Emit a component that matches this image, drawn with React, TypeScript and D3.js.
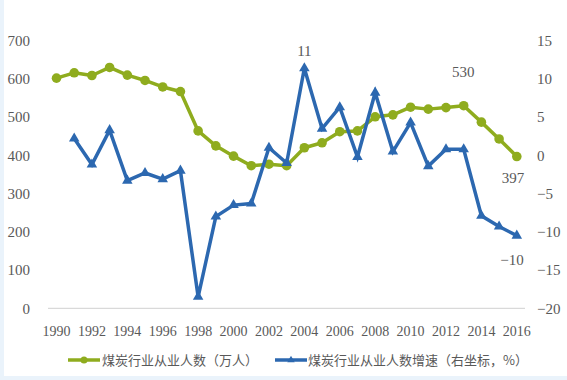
import React from "react";
import * as d3 from "d3";

const years = d3.range(1990, 2017);
const employees = [602, 616, 609, 630, 610, 596, 579, 567, 464, 425, 398, 373, 377, 373, 420, 433, 462, 464, 501, 506, 526, 521, 525, 530, 487, 443, 397];
const growthYears = d3.range(1991, 2017);
const growth = [2.2, -1.2, 3.3, -3.3, -2.3, -3.1, -2.0, -18.5, -8.0, -6.5, -6.3, 1.0, -1.0, 11.4, 3.5, 6.3, -0.2, 8.2, 0.5, 4.3, -1.4, 0.8, 0.8, -7.9, -9.3, -10.5];
const leftTicks = [0, 100, 200, 300, 400, 500, 600, 700];
const rightTicks = [-20, -15, -10, -5, 0, 5, 10, 15];
const xTickYears = d3.range(1990, 2017, 2);
const legendLabels = ["煤炭行业从业人数（万人）", "煤炭行业从业人数增速（右坐标，%）"];

const W = 567, H = 380;
const GREEN = "#8fac1e";
const BLUE = "#2c68b0";
const TEXT = "#595959";
const NUM_FONT = "'Liberation Serif', 'DejaVu Serif', serif";
const CJK_FONT = "'Noto Sans CJK SC', sans-serif";

export default function App() {
  const x = d3.scaleLinear().domain([1990, 2016]).range([56.5, 516.8]);
  const yL = d3.scaleLinear().domain([0, 700]).range([308.3, 40.7]);
  const yR = d3.scaleLinear().domain([-20, 15]).range([308.3, 40.7]);

  const greenLine = d3.line<number>().x((_, i) => x(years[i])).y((d) => yL(d))(employees) || "";
  const blueLine = d3.line<number>().x((_, i) => x(growthYears[i])).y((d) => yR(d))(growth) || "";
  const tri = d3.symbol().type(d3.symbolTriangle).size(48)() || "";

  return (
    <svg width={W} height={H} style={{ position: "absolute", left: 0, top: 0, background: "#fff" }}>
      <rect x={0} y={0} width={4} height={H} fill="#eaf3fb" />
      <rect x={0} y={H - 4} width={W} height={4} fill="#eaf3fb" />
      <line x1={48} x2={525} y1={yL(0)} y2={yL(0)} stroke="#d9d9d9" strokeWidth={1.2} />
      {leftTicks.map((t) => (
        <text key={"l" + t} x={30} y={yL(t)} dy="0.35em" textAnchor="end" fontFamily={NUM_FONT} fontSize={15} fill={TEXT}>{t}</text>
      ))}
      {rightTicks.map((t) => (
        <text key={"r" + t} x={537} y={yR(t)} dy="0.35em" textAnchor="start" fontFamily={NUM_FONT} fontSize={15} fill={TEXT}>{t < 0 ? "\u2212" + Math.abs(t) : t}</text>
      ))}
      {xTickYears.map((t) => (
        <text key={"x" + t} x={x(t)} y={331} dy="0.35em" textAnchor="middle" fontFamily={NUM_FONT} fontSize={14} fill={TEXT}>{t}</text>
      ))}
      <path d={greenLine} fill="none" stroke={GREEN} strokeWidth={3.5} strokeLinejoin="round" />
      {employees.map((v, i) => (
        <circle key={"g" + i} cx={x(years[i])} cy={yL(v)} r={4.8} fill={GREEN} />
      ))}
      <path d={blueLine} fill="none" stroke={BLUE} strokeWidth={3.5} strokeLinejoin="miter" />
      {growth.map((v, i) => (
        <path key={"b" + i} d={tri} transform={`translate(${x(growthYears[i])},${yR(v)})`} fill={BLUE} />
      ))}
      <text x={x(2004)} y={51} dy="0.35em" textAnchor="middle" fontFamily={NUM_FONT} fontSize={15} fill={TEXT}>11</text>
      <text x={x(2013) - 0.5} y={72} dy="0.35em" textAnchor="middle" fontFamily={NUM_FONT} fontSize={15} fill={TEXT}>530</text>
      <text x={513} y={178} dy="0.35em" textAnchor="middle" fontFamily={NUM_FONT} fontSize={15} fill={TEXT}>397</text>
      <text x={512} y={260} dy="0.35em" textAnchor="middle" fontFamily={NUM_FONT} fontSize={15} fill={TEXT}>{"\u221210"}</text>
      <line x1={68} x2={100} y1={360} y2={360} stroke={GREEN} strokeWidth={3.5} />
      <circle cx={84} cy={360} r={3.5} fill={GREEN} />
      <text x={102} y={360} dy="0.35em" fontFamily={CJK_FONT} fontSize={13} fill={TEXT}>{legendLabels[0]}</text>
      <line x1={275} x2={307} y1={360} y2={360} stroke={BLUE} strokeWidth={3.5} />
      <path d={d3.symbol().type(d3.symbolTriangle).size(24)() || ""} transform="translate(291,360)" fill={BLUE} />
      <text x={308} y={360} dy="0.35em" fontFamily={CJK_FONT} fontSize={13} fill={TEXT}>{legendLabels[1]}</text>
    </svg>
  );
}
